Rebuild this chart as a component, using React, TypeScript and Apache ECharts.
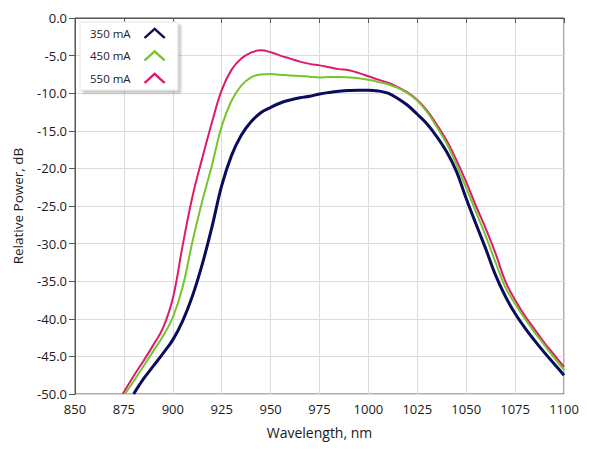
import React, { useEffect, useRef } from "react";
import * as echarts from "echarts";

const seriesNames = ["350 mA", "450 mA", "550 mA"];
const seriesColors = ["#0c0c5c", "#76c52a", "#de1a6c"];

const wl350 = [880, 885, 890, 895, 900, 905, 910, 915, 920, 925, 930, 935, 940, 945, 950, 955, 960, 965, 970, 975, 980, 985, 990, 995, 1000, 1005, 1010, 1015, 1020, 1025, 1030, 1035, 1040, 1045, 1050, 1055, 1060, 1065, 1070, 1075, 1080, 1085, 1090, 1095, 1100];
const p350 = [-50, -48.0, -46.3, -44.6, -42.8, -40.3, -37.0, -32.8, -27.8, -22.3, -18.3, -15.6, -13.8, -12.6, -11.9, -11.3, -10.9, -10.6, -10.4, -10.1, -9.9, -9.75, -9.65, -9.6, -9.6, -9.7, -10.0, -10.7, -11.6, -12.8, -14.1, -15.8, -17.8, -20.4, -24.0, -27.4, -30.7, -34.2, -37.0, -39.3, -41.2, -42.9, -44.5, -46.0, -47.5];

const wl450 = [875.5, 880, 885, 890, 895, 900, 905, 910, 915, 920, 925, 930, 935, 940, 945, 950, 955, 960, 965, 970, 975, 980, 985, 990, 995, 1000, 1005, 1010, 1015, 1020, 1025, 1030, 1035, 1040, 1045, 1050, 1055, 1060, 1065, 1070, 1075, 1080, 1085, 1090, 1095, 1100];
const p450 = [-50, -48.3, -46.3, -44.3, -42.3, -39.8, -35.8, -29.8, -24.4, -19.6, -14.4, -11.0, -9.0, -7.9, -7.5, -7.45, -7.55, -7.65, -7.7, -7.8, -7.9, -7.85, -7.85, -7.9, -8.0, -8.2, -8.5, -8.8, -9.3, -10.0, -11.0, -12.5, -14.5, -16.7, -19.5, -22.6, -25.8, -29.0, -32.5, -35.8, -38.0, -40.0, -41.8, -43.5, -45.2, -46.8];

const wl550 = [874.4, 880, 885, 890, 895, 900, 905, 910, 915, 920, 925, 930, 935, 940, 945, 950, 955, 960, 965, 970, 975, 980, 985, 990, 995, 1000, 1005, 1010, 1015, 1020, 1025, 1030, 1035, 1040, 1045, 1050, 1055, 1060, 1065, 1070, 1075, 1080, 1085, 1090, 1095, 1100];
const p550 = [-50, -47.6, -45.6, -43.5, -41.2, -37.3, -30.3, -23.8, -18.7, -13.9, -9.6, -6.9, -5.4, -4.6, -4.3, -4.55, -5.0, -5.4, -5.8, -6.1, -6.3, -6.55, -6.8, -6.95, -7.3, -7.75, -8.2, -8.6, -9.2, -9.9, -10.9, -12.3, -14.2, -16.3, -18.9, -21.8, -25.0, -28.0, -31.3, -35.0, -37.5, -39.6, -41.4, -43.2, -44.8, -46.4];

const xTitle = "Wavelength, nm";
const yTitle = "Relative Power, dB";

const chevron = "path://M0,10 L11,0 L22,10 L20.2,11.6 L11,3.2 L1.8,11.6 Z";

const FONT = "'Open Sans', 'Noto Sans', sans-serif";

export default function App() {
  const ref = useRef<HTMLDivElement>(null);
  useEffect(() => {
    document.body.style.margin = "0";
    if (!ref.current) return;
    const chart = echarts.init(ref.current, null, { renderer: "svg" });
    const pairs = (xs: number[], ys: number[]) => xs.map((x, i) => [x, ys[i]]);
    const data = [pairs(wl350, p350), pairs(wl450, p450), pairs(wl550, p550)];
    const widths = [3, 2, 2];
    chart.setOption({
      animation: false,
      backgroundColor: "#ffffff",
      textStyle: { fontFamily: FONT },
      grid: {
        left: 75,
        right: 25,
        top: 18,
        bottom: 62,
        show: true,
        borderColor: "#555555",
        borderWidth: 1,
        backgroundColor: "transparent",
      },
      legend: {
        orient: "vertical",
        left: 80,
        top: 22,
        align: "right",
        icon: chevron,
        itemWidth: 22,
        itemHeight: 12,
        itemGap: 10.5,
        padding: [5, 12, 6, 10],
        backgroundColor: "#ffffff",
        borderColor: "#e4e4e4",
        borderWidth: 1,
        shadowColor: "rgba(0,0,0,0.22)",
        shadowBlur: 2,
        shadowOffsetX: 3,
        shadowOffsetY: 3,
        data: seriesNames,
        textStyle: {
          fontFamily: FONT,
          fontSize: 11.5,
          color: "#222222",
          padding: [0, 8, 0, 0],
        },
      },
      xAxis: {
        type: "value",
        min: 850,
        max: 1100,
        interval: 25,
        name: xTitle,
        nameLocation: "middle",
        nameGap: 31,
        nameTextStyle: { fontFamily: FONT, fontSize: 14, color: "#1a1a1a" },
        axisLine: { show: true, lineStyle: { color: "#555555", width: 1 } },
        axisTick: { show: true, length: 5, lineStyle: { color: "#555555" } },
        axisLabel: {
          fontFamily: FONT,
          fontSize: 13,
          color: "#1a1a1a",
          margin: 8,
          formatter: (v: number) => String(v),
        },
        splitLine: { show: true, lineStyle: { color: "#dcdcdc", width: 1 } },
      },
      yAxis: {
        type: "value",
        min: -50,
        max: 0,
        interval: 5,
        name: yTitle,
        nameLocation: "middle",
        nameGap: 50,
        nameTextStyle: { fontFamily: FONT, fontSize: 13.5, color: "#1a1a1a" },
        axisLine: { show: true, lineStyle: { color: "#555555", width: 1 } },
        axisTick: { show: true, length: 6, lineStyle: { color: "#555555" } },
        axisLabel: {
          fontFamily: FONT,
          fontSize: 13,
          color: "#1a1a1a",
          margin: 8,
          formatter: (v: number) => v.toFixed(1),
        },
        splitLine: { show: true, lineStyle: { color: "#dcdcdc", width: 1 } },
      },
      series: seriesNames.map((name, i) => ({
        name,
        type: "line",
        data: data[i],
        showSymbol: false,
        symbol: "none",
        smooth: 0.4,
        clip: true,
        color: seriesColors[i],
        itemStyle: { color: seriesColors[i] },
        lineStyle: { color: seriesColors[i], width: widths[i] },
        z: 3 - i,
      })),
    });
    return () => chart.dispose();
  }, []);
  return <div ref={ref} style={{ width: 589, height: 456 }} />;
}
